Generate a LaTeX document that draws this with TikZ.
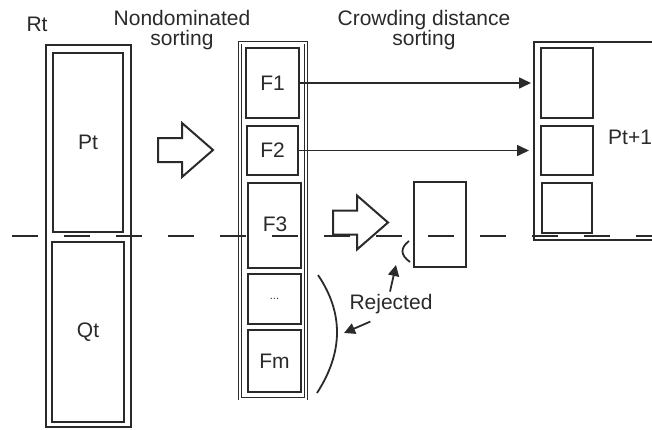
\documentclass[tikz,border=0pt]{standalone}
\usepackage{fontspec}
\setmainfont{Liberation Sans}
\usetikzlibrary{arrows.meta}
\usetikzlibrary{calc}
\definecolor{ink}{HTML}{2A2A2A}
\tikzset{
	frame/.style={draw=ink,line width=1.5pt,inner sep=0pt},
	slot/.style={draw=ink,line width=2pt,inner sep=0pt,minimum width=#1},
	pointer/.style={ink,line width=1.6pt,-{Triangle[length=12pt,width=11pt]}},
	tag/.style={text=ink,inner sep=2pt,font=\fontsize{21}{20}\selectfont}
}

\begin{document}
\begin{tikzpicture}[x=1pt,y=-1pt]

	    \useasboundingbox (0,0) rectangle (652,429);

	    % R_t = P_t + Q_t
	    \node[frame,minimum width=85pt,minimum height=382pt] (rt) at (88.5,236) {};
	    \node[slot=70pt,minimum height=179pt,tag] (pt) at (88,142.5) {Pt};
	    \node[slot=72pt,minimum height=180pt,tag] (qt) at (88,332) {Qt};
	    \node[tag,anchor=base] (rtlabel) at (37,31) {Rt};

	    % fronts
	    \node[frame,line width=0.9pt,double,double distance=2pt,minimum width=66pt,minimum height=356pt] (fronts) at (273,220.5) {};
	    \node[slot=53pt,minimum height=70pt,tag] (f1) at (272.5,83) {F1};
	    \node[slot=51pt,minimum height=49pt,tag] (f2) at (272.5,150.5) {F2};
	    \node[slot=53pt,minimum height=85pt,tag] (f3) at (274.5,225.5) {};
	    \node[tag,anchor=base] (f3label) at (275,231) {F3};
	    \node[slot=53pt,minimum height=50pt,text=ink,font=\fontsize{11}{11}\selectfont] (fdots) at (274.5,299) {...};
	    \node[slot=53pt,minimum height=62pt,tag] (fm) at (274.5,361) {Fm};

	    % P_{t+1}
	    \node[frame,line width=2pt,minimum width=146pt,minimum height=198pt] (ptnext) at (607,141) {};
	    \node[slot=52pt,minimum height=70pt] (s1) at (567,83) {};
	    \node[slot=52pt,minimum height=49pt] (s2) at (567,150.5) {};
	    \node[slot=50pt,minimum height=50pt] (s3) at (567,208) {};
	    \node[tag,anchor=west] (ptnextlabel) at (606,137) {Pt+1};

	    \node[slot=52pt,minimum height=85pt] (cut) at (440,224.5) {};

	    \node[tag,align=center,anchor=base] (nds) at (182,45) {Nondominated\\sorting};
	    \node[tag,align=center,anchor=base] (cds) at (424,45) {Crowding distance\\sorting};

	    \draw[pointer,shorten >=9pt] (f1.east) -- (s1.west);
	    \draw[pointer,shorten >=11pt] (f2.east) -- (s2.west);

	    % block arrows
	    \coordinate (sortarrow) at (158,150);
	    \coordinate (cutarrow) at (333,222.5);
	    \foreach \tail in {sortarrow,cutarrow}
	        \draw[ink,line width=2pt,line join=miter] (\tail) ++(0,-12) -- ++(24,0) -- ++(0,-15) -- ++(31,27) -- ++(-31,27) -- ++(0,-15) -- ++(-24,0) -- cycle;

	    \draw[ink,line width=2.2pt,dash pattern=on 26pt off 26pt] (12,236) -- (660,236);

	    % rejected parts
	    \draw[ink,line width=1.8pt] (318,275) .. controls (343.7,313) and (343.3,352.3) .. (317,393) coordinate[pos=0.5] (bigarc);
	    \draw[ink,line width=1.8pt] (409,241) .. controls (400,248) and (400.3,255) .. (410,262) coordinate[pos=1] (smallarc);
	    \node[tag,anchor=base] (rejected) at (391,309) {Rejected};
	    \draw[ink,line width=1.8pt,-{Triangle[length=11pt,width=11pt]}] ([xshift=-1pt]rejected.north) -- ([shift={(-14pt,-3pt)}]smallarc);
	    \draw[ink,line width=1.8pt,-{Triangle[length=11pt,width=11pt]}] ([xshift=23pt,yshift=-6pt]rejected.south west) -- ([xshift=7pt]bigarc);

\end{tikzpicture}
\end{document}
